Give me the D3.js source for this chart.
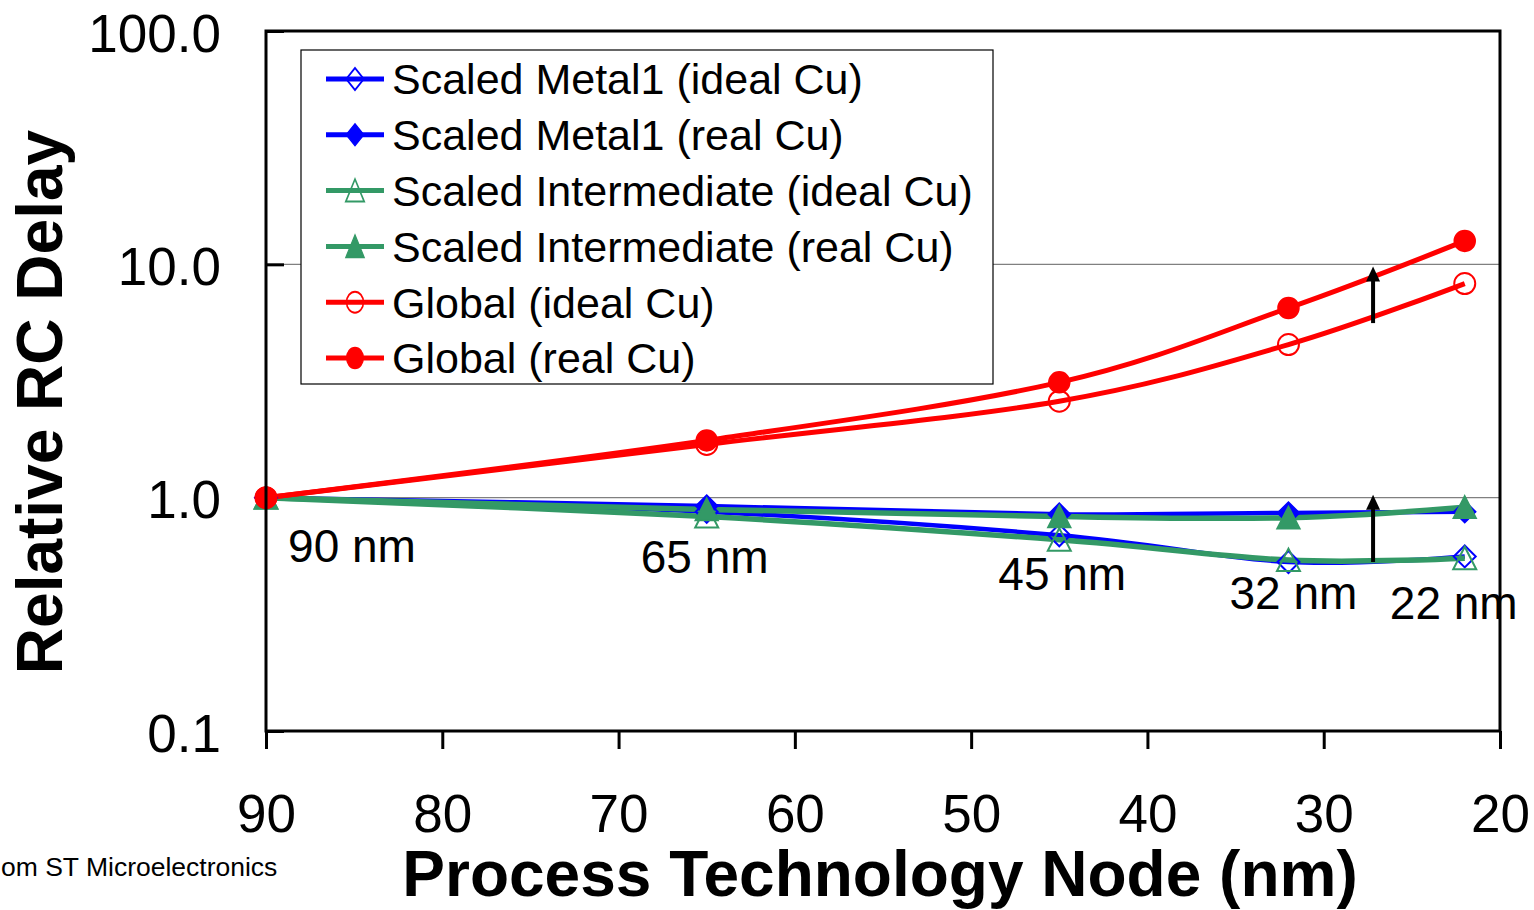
<!DOCTYPE html>
<html>
<head>
<meta charset="utf-8">
<script src="https://cdn.jsdelivr.net/npm/d3@7"></script>
<style>
  html, body { margin: 0; padding: 0; background: #fff; }
  svg { display: block; font-family: "Liberation Sans", Arial, sans-serif; }
</style>
</head>
<body>
<svg id="chart" width="1534" height="910"></svg>
<script>
// Process nodes (nm) and relative RC delay, normalised to 90 nm
const nodes = [90, 65, 45, 32, 22];
const nodeLabels = ["90 nm", "65 nm", "45 nm", "32 nm", "22 nm"];

const metal1Ideal = [1.0, 0.87, 0.69, 0.53, 0.56];
const metal1Real  = [1.0, 0.92, 0.85, 0.86, 0.87];
const interIdeal  = [1.0, 0.83, 0.66, 0.54, 0.55];
const interReal   = [1.0, 0.89, 0.83, 0.82, 0.91];
const globalIdeal = [1.0, 1.69, 2.59, 4.53, 8.27];
const globalReal  = [1.0, 1.76, 3.12, 6.50, 12.6];

const seriesNames = [
  "Scaled Metal1 (ideal Cu)",
  "Scaled Metal1 (real Cu)",
  "Scaled Intermediate (ideal Cu)",
  "Scaled Intermediate (real Cu)",
  "Global (ideal Cu)",
  "Global (real Cu)"
];

const yTicks = [0.1, 1, 10, 100];
const yTickLabels = ["0.1", "1.0", "10.0", "100.0"];
const xTicks = [90, 80, 70, 60, 50, 40, 30, 20];

// Arrows showing the real-vs-ideal Cu penalty near 27 nm
const arrowNode = 27.2;
const arrowFrom = [5.6, 0.53];
const arrowTo   = [9.8, 1.03];

// ---- layout ----
const plot = { left: 266, right: 1500, top: 31, bottom: 731 };
const labelShift = [[86, 64], [-2, 75], [3, 92], [5, 111], [-11, 121]]; // node label offsets from the 1.0 line

const svg = d3.select("#chart");

const x = d3.scaleLinear().domain([90, 20]).range([plot.left, plot.right]);
const y = d3.scaleLog().domain([0.1, 100]).range([plot.bottom, plot.top]);

const BLUE = "#0000ff", GREEN = "#339966", RED = "#ff0000";

const series = [
  { values: metal1Ideal, color: BLUE,  shape: "diamond",  filled: false, width: 4.5 },
  { values: metal1Real,  color: BLUE,  shape: "diamond",  filled: true,  width: 4.5 },
  { values: interIdeal,  color: GREEN, shape: "triangle", filled: false, width: 5.5 },
  { values: interReal,   color: GREEN, shape: "triangle", filled: true,  width: 5.5 },
  { values: globalIdeal, color: RED,   shape: "circle",   filled: false, width: 5 },
  { values: globalReal,  color: RED,   shape: "circle",   filled: true,  width: 5 }
];

// gridlines at 1 and 10
svg.append("g").selectAll("line")
  .data([1, 10]).join("line")
  .attr("x1", plot.left).attr("x2", plot.right)
  .attr("y1", d => y(d)).attr("y2", d => y(d))
  .attr("stroke", "#808080").attr("stroke-width", 1.3);

// x axis ticks (outward) and labels
const xAxis = d3.axisBottom(x).tickValues(xTicks).tickSize(18).tickFormat(d3.format("d"));
const gx = svg.append("g").attr("transform", `translate(0,${plot.bottom})`).call(xAxis);
gx.select(".domain").remove();
gx.selectAll(".tick line").attr("stroke", "#000").attr("stroke-width", 3);
gx.selectAll(".tick text")
  .attr("font-size", 53).attr("fill", "#000")
  .attr("font-family", "Liberation Sans, Arial, sans-serif")
  .attr("y", 101).attr("dy", 0);

// y axis ticks (inward) and labels
const yAxis = d3.axisLeft(y).tickValues(yTicks).tickSize(-18)
  .tickFormat((d, i) => yTickLabels[i]);
const gy = svg.append("g").attr("transform", `translate(${plot.left},0)`).call(yAxis);
gy.select(".domain").remove();
gy.selectAll(".tick line").attr("stroke", "#000").attr("stroke-width", 3);
gy.selectAll(".tick text")
  .attr("font-size", 53).attr("fill", "#000")
  .attr("font-family", "Liberation Sans, Arial, sans-serif")
  .attr("x", -45).attr("dy", "0.38em");

// lines (smoothed), then markers
const line = d3.line()
  .x((d, i) => x(nodes[i]))
  .y(d => y(d))
  .curve(d3.curveCardinal.tension(0));

svg.append("g").selectAll("path")
  .data(series).join("path")
  .attr("d", s => line(s.values))
  .attr("fill", "none")
  .attr("stroke", s => s.color)
  .attr("stroke-width", s => s.width)
  .attr("stroke-linejoin", "round");

function markerPath(shape) {
  if (shape === "diamond") return "M0,-11L11,0L0,11L-11,0Z";
  if (shape === "triangle") return "M0,-11.5L11.5,11L-11.5,11Z";
  return d3.arc()({ innerRadius: 0, outerRadius: 10.5, startAngle: 0, endAngle: 2 * Math.PI });
}

function drawMarker(g, s, cx, cy) {
  const p = g.append("path")
    .attr("d", markerPath(s.shape))
    .attr("transform", `translate(${cx},${cy})`);
  if (s.filled) {
    p.attr("fill", s.color).attr("stroke", s.color).attr("stroke-width", 1.5);
  } else {
    p.attr("fill", "none").attr("stroke", s.color).attr("stroke-width", 2);
  }
}

const mg = svg.append("g");
series.forEach(s => {
  s.values.forEach((v, i) => drawMarker(mg, s, x(nodes[i]), y(v)));
});

// node labels
svg.append("g").selectAll("text")
  .data(nodeLabels).join("text")
  .attr("x", (d, i) => x(nodes[i]) + labelShift[i][0])
  .attr("y", (d, i) => y(1) + labelShift[i][1])
  .attr("text-anchor", "middle")
  .attr("font-size", 46)
  .attr("fill", "#000")
  .text(d => d);

// arrows
const ag = svg.append("g");
arrowFrom.forEach((v, i) => {
  const ax = x(arrowNode), y0 = y(v), y1 = y(arrowTo[i]);
  ag.append("line")
    .attr("x1", ax).attr("x2", ax)
    .attr("y1", y0).attr("y2", y1 + 12)
    .attr("stroke", "#000").attr("stroke-width", 4);
  ag.append("path")
    .attr("d", `M${ax},${y1}L${ax + 7},${y1 + 15}L${ax - 7},${y1 + 15}Z`)
    .attr("fill", "#000");
});

// plot frame
svg.append("rect")
  .attr("x", plot.left).attr("y", plot.top)
  .attr("width", plot.right - plot.left).attr("height", plot.bottom - plot.top)
  .attr("fill", "none").attr("stroke", "#000").attr("stroke-width", 3);

// legend
const legend = svg.append("g");
legend.append("rect")
  .attr("x", 301).attr("y", 50).attr("width", 692).attr("height", 334)
  .attr("fill", "#fff").attr("stroke", "#000").attr("stroke-width", 1.2);
series.forEach((s, i) => {
  const ry = 79 + i * 55.8;
  legend.append("line")
    .attr("x1", 326).attr("x2", 384).attr("y1", ry).attr("y2", ry)
    .attr("stroke", s.color).attr("stroke-width", 5);
  const m = legend.append("g").attr("transform", `translate(355,${ry}) scale(0.8,1)`);
  drawMarker(m, s, 0, 0);
  legend.append("text")
    .attr("x", 392).attr("y", ry).attr("dy", "0.36em")
    .attr("font-size", 43).attr("fill", "#000")
    .text(seriesNames[i]);
});

// axis titles
svg.append("text")
  .attr("x", 880).attr("y", 896)
  .attr("text-anchor", "middle")
  .attr("font-size", 64).attr("font-weight", "bold").attr("fill", "#000")
  .text("Process Technology Node (nm)");

svg.append("text")
  .attr("transform", "translate(62,402) rotate(-90)")
  .attr("text-anchor", "middle")
  .attr("font-size", 64).attr("font-weight", "bold").attr("fill", "#000")
  .text("Relative RC Delay");

// source note
svg.append("text")
  .attr("x", 1).attr("y", 876)
  .attr("text-anchor", "start")
  .attr("font-size", 26.5).attr("fill", "#000")
  .text("om ST Microelectronics");
</script>
</body>
</html>
